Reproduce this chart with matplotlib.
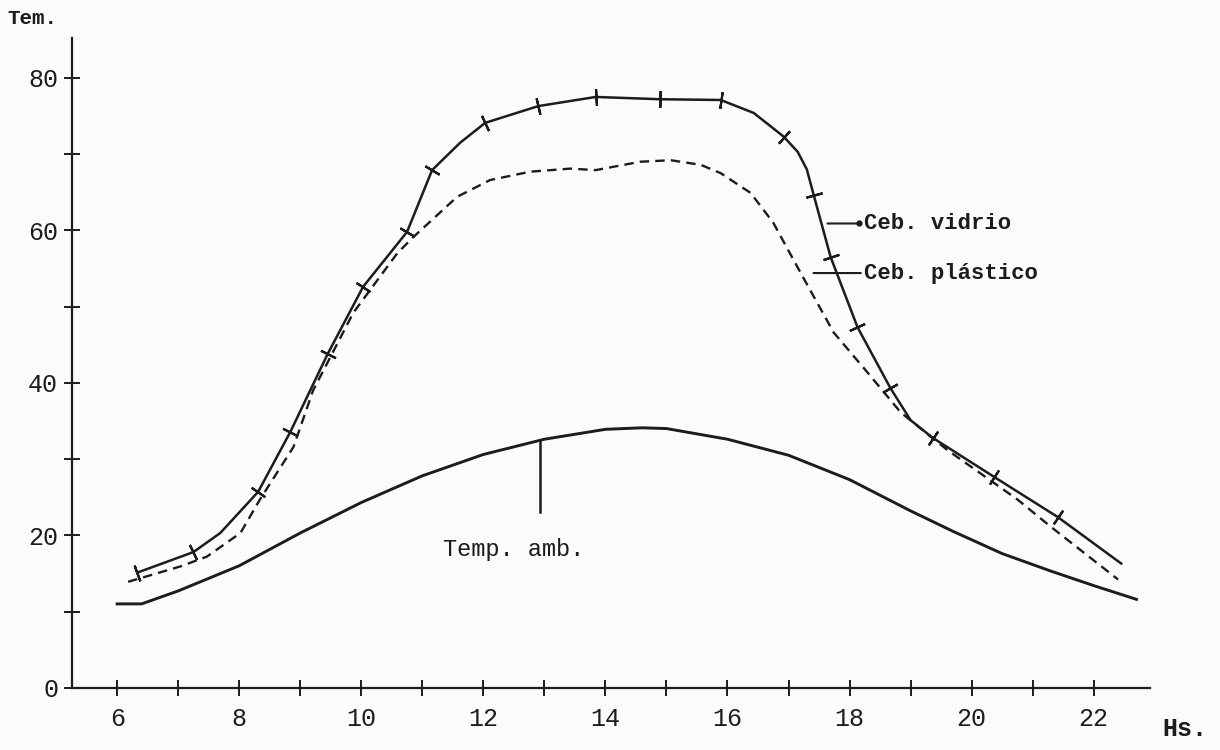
import numpy as np
import matplotlib
matplotlib.use("Agg")
import matplotlib.pyplot as plt

# hours / temperatures
amb_h = [6.0, 6.4, 7.0, 8.0, 9.0, 10.0, 11.0, 12.0, 13.0, 14.0, 14.6, 15.0,
         16.0, 17.0, 18.0, 19.0, 19.7, 20.5, 21.3, 22.0, 22.7]
amb_t = [11.0, 11.0, 12.7, 16.0, 20.3, 24.3, 27.8, 30.6, 32.6, 33.9, 34.1, 34.0,
         32.6, 30.5, 27.3, 23.2, 20.5, 17.6, 15.3, 13.4, 11.6]

vid_h = [6.33, 7.25, 7.69, 8.31, 8.84, 9.45, 10.03, 10.75, 11.16, 11.62,
         12.03, 12.9, 13.84, 14.9, 15.89, 16.43, 16.92, 17.15, 17.3, 17.41,
         17.69, 18.13, 18.67, 19.0, 19.36, 20.36, 21.41, 22.45]
vid_t = [15.1, 17.8, 20.3, 25.7, 33.6, 43.8, 52.6, 59.8, 67.9, 71.5,
         74.1, 76.3, 77.5, 77.2, 77.1, 75.4, 72.3, 70.3, 68.0, 64.7,
         56.5, 47.3, 39.3, 35.1, 32.8, 27.7, 22.4, 16.3]
vid_tick = [1, 1, 0, 1, 1, 1, 1, 1, 1, 0,
            1, 1, 1, 1, 1, 0, 1, 0, 0, 1,
            1, 1, 1, 0, 1, 1, 1, 0]

pla_h = [6.18, 7.03, 7.47, 8.02, 8.34, 8.89, 9.21, 9.87, 10.59, 10.85,
         11.57, 12.11, 12.77, 13.43, 13.84, 14.57, 15.07, 15.56, 15.89,
         16.38, 16.75, 17.2, 17.74, 18.3, 18.84, 19.6, 20.75, 21.3, 22.4]
pla_t = [13.9, 15.9, 17.2, 20.3, 24.7, 31.6, 39.0, 49.2, 57.0, 59.1,
         64.4, 66.6, 67.7, 68.1, 67.9, 69.0, 69.2, 68.6, 67.5,
         64.9, 61.0, 54.4, 46.6, 41.3, 36.1, 31.2, 24.7, 21.1, 14.2]

x_major = [6, 8, 10, 12, 14, 16, 18, 20, 22]
x_minor = [7, 9, 11, 13, 15, 17, 19, 21]
y_major = [0, 20, 40, 60, 80]
y_minor = [10, 30, 50, 70]

mono = "Liberation Mono"

fig = plt.figure(figsize=(12.2, 7.5), dpi=100)
fig.patch.set_facecolor("#fbfbf9")
ax = fig.add_axes([0.059, 0.083, 0.884, 0.866])
ax.set_facecolor("#fbfbf9")

ax.set_xlim(5.26, 22.93)
ax.set_ylim(0, 85.2)

ink = "#1c1c1c"
ax.plot(amb_h, amb_t, color=ink, lw=2.1, solid_joinstyle="round")
ax.plot(vid_h, vid_t, color=ink, lw=1.8, solid_joinstyle="round")
ax.plot(pla_h, pla_t, color=ink, lw=1.7, dashes=(4, 2.6))

# short cross marks on the glass curve, perpendicular to the line
pts = ax.transData.transform(np.column_stack([vid_h, vid_t]))
for i in range(len(vid_h)):
    if not vid_tick[i]:
        continue
    a = pts[max(i - 1, 0)]
    b = pts[min(i + 1, len(vid_h) - 1)]
    ang = np.degrees(np.arctan2(b[1] - a[1], b[0] - a[0]))
    ax.plot(vid_h[i], vid_t[i], marker=(2, 2, ang), ms=12, mew=1.6,
            color=ink, ls="none")

# labels
ax.annotate("Ceb. vidrio", xy=(17.57, 60.9), xytext=(18.23, 60.9),
            va="center", ha="left", fontsize=16, family=mono, weight="bold",
            color=ink, arrowprops=dict(arrowstyle="-", lw=1.5, color=ink,
                                       shrinkA=0, shrinkB=3))
ax.plot(18.15, 60.9, "o", ms=3.5, color=ink)
ax.annotate("Ceb. plástico", xy=(17.25, 54.4), xytext=(18.23, 54.4),
            va="center", ha="left", fontsize=16, family=mono, weight="bold",
            color=ink, arrowprops=dict(arrowstyle="-", lw=1.5, color=ink,
                                       shrinkA=0, shrinkB=7))
ax.plot([12.93, 12.93], [32.4, 23.0], color=ink, lw=1.8)
ax.text(12.5, 18.2, "Temp. amb.", ha="center", va="center", fontsize=17,
        family=mono, color=ink)

# axes styling
for s in ["top", "right"]:
    ax.spines[s].set_visible(False)
for s in ["left", "bottom"]:
    ax.spines[s].set_color(ink)
    ax.spines[s].set_linewidth(1.6)
ax.set_xticks(x_major)
ax.set_xticks(x_minor, minor=True)
ax.set_yticks(y_major)
ax.set_yticks(y_minor, minor=True)
ax.tick_params(which="both", direction="inout", length=12, width=1.4,
               color=ink, labelsize=18, labelcolor=ink)
ax.tick_params(axis="x", pad=8)
ax.tick_params(axis="y", pad=4)
for lab in ax.get_xticklabels() + ax.get_yticklabels():
    lab.set_family(mono)

fig.text(0.006, 0.963, "Tem.", fontsize=15, family=mono, weight="bold",
         color=ink, va="bottom")
fig.text(0.953, 0.028, "Hs.", fontsize=18, family=mono, weight="bold",
         color=ink, va="center")

fig.savefig("out.png", dpi=100, facecolor=fig.get_facecolor())
